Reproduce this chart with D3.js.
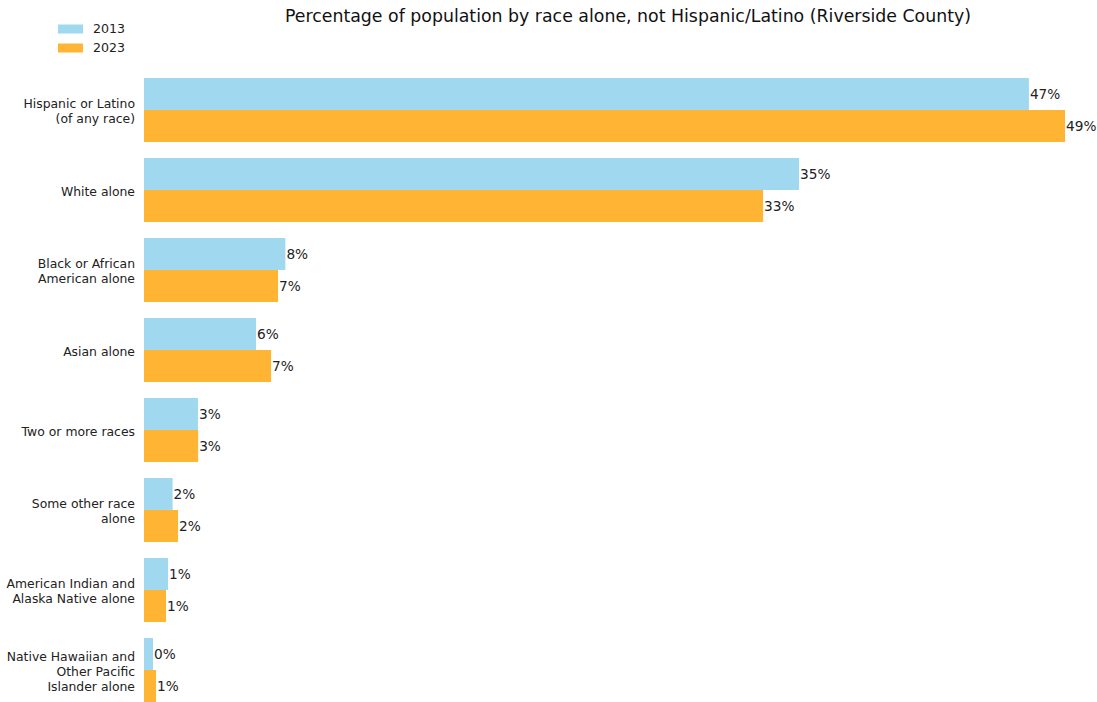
<!DOCTYPE html>
<html><head><meta charset="utf-8">
<script src="https://cdn.jsdelivr.net/npm/d3@7"></script>
<style>body{margin:0;background:#fff;} svg{display:block;font-family:"DejaVu Sans",sans-serif;}</style>
</head><body>
<svg id="c" width="1097" height="702"></svg>
<script>
const categories = [
  ["Hispanic or Latino", "(of any race)"],
  ["White alone"],
  ["Black or African", "American alone"],
  ["Asian alone"],
  ["Two or more races"],
  ["Some other race", "alone"],
  ["American Indian and", "Alaska Native alone"],
  ["Native Hawaiian and", "Other Pacific", "Islander alone"]
];
const years = ["2013", "2023"];
const values2013 = [47.07, 34.84, 7.52, 5.96, 2.87, 1.52, 1.28, 0.48];
const values2023 = [48.99, 32.93, 7.13, 6.76, 2.88, 1.81, 1.17, 0.64];
const colors = ["#9fd8ef", "#ffb533"];
const title = "Percentage of population by race alone, not Hispanic/Latino (Riverside County)";

const svg = d3.select("#c");
const ids = categories.map((d, i) => i);
const y = d3.scaleBand().domain(ids).range([70, 710]).paddingInner(0.2).paddingOuter(0.1);
const ySub = d3.scaleBand().domain(years).range([0, y.bandwidth()]);
const x = d3.scaleLinear().domain([0, 52]).range([144, 144 + 52 * 18.8]);
const series = [values2013, values2023];

years.forEach((yr, si) => {
  const g = svg.append("g");
  g.selectAll("rect").data(series[si]).join("rect")
    .attr("x", x(0))
    .attr("y", (d, i) => y(i) + ySub(yr))
    .attr("width", d => x(d) - x(0))
    .attr("height", ySub.bandwidth())
    .attr("fill", colors[si]);
  g.selectAll("text").data(series[si]).join("text")
    .attr("x", d => x(d) + 1)
    .attr("y", (d, i) => y(i) + ySub(yr) + ySub.bandwidth() / 2)
    .attr("dy", "0.35em")
    .attr("font-size", "13.7px")
    .attr("fill", "#222")
    .text(d => Math.round(d) + "%");
});

// category labels
const lab = svg.append("g");
categories.forEach((lines, i) => {
  const cy = y(i) + y.bandwidth() / 2 + 1.5;
  const lh = 15;
  const t = lab.append("text").attr("text-anchor", "end").attr("font-size", "12.4px").attr("fill", "#222");
  lines.forEach((ln, j) => {
    t.append("tspan").attr("x", 135)
      .attr("y", cy + (j - (lines.length - 1) / 2) * lh)
      .attr("dy", "0.35em").text(ln);
  });
});

// title
svg.append("text").attr("x", 628).attr("y", 22).attr("text-anchor", "middle")
  .attr("font-size", "17.35px").attr("fill", "#111").text(title);

// legend
const lg = svg.append("g");
years.forEach((yr, i) => {
  const cy = 29 + i * 19;
  lg.append("rect").attr("x", 58).attr("y", cy - 4.5).attr("width", 25).attr("height", 9).attr("fill", colors[i]);
  lg.append("text").attr("x", 93).attr("y", cy).attr("dy", "0.35em").attr("font-size", "12.6px").attr("fill", "#222").text(yr);
});
</script>
</body></html>
